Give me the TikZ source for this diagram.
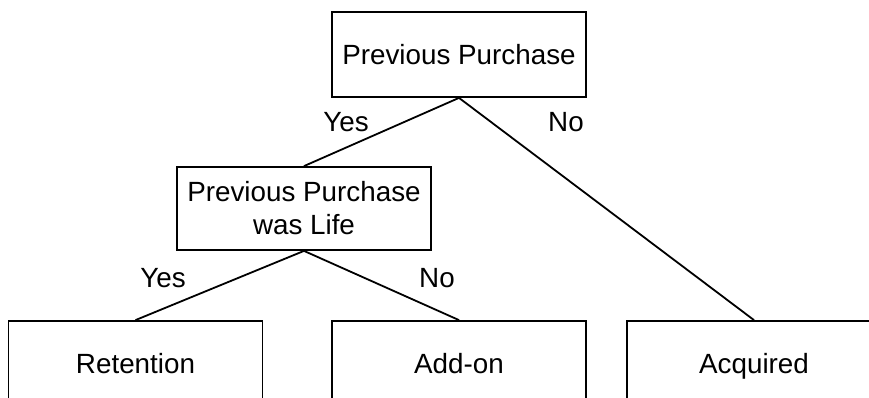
\documentclass[tikz,border=0pt]{standalone}
\usepackage{fontspec}
\setmainfont{Liberation Sans}
\begin{document}
\begin{tikzpicture}[x=1pt,y=-1pt,
  box/.style={draw=black,line width=1.8pt,rectangle,inner sep=0pt,
    minimum width=254pt,align=center,font=\fontsize{27.8}{33}\selectfont},
  onebox/.style={box,text height=20pt,text depth=0pt},
  lbl/.style={anchor=base,inner sep=0pt,font=\fontsize{27.8}{33}\selectfont},
  conn/.style={draw=black,line width=1.8pt}]
\useasboundingbox (0,0) rectangle (869,398);
\clip (0,0) rectangle (869,398);
\node[onebox,minimum height=85pt] (top) at (459,54.5) {Previous Purchase};
\node[box,minimum height=83pt] (mid) at (304,208.5) {Previous Purchase\\was Life};
\node[onebox,minimum height=84pt] (ret) at (135.5,363) {Retention};
\node[onebox,minimum height=84pt] (add) at (459,363) {Add-on};
\node[onebox,minimum height=84pt] (acq) at (754,363) {Acquired};
\node[lbl] (yes1) at (346,132) {Yes};
\node[lbl] (no1) at (566,132) {No};
\node[lbl] (yes2) at (163,287) {Yes};
\node[lbl] (no2) at (437,287) {No};
\draw[conn] (top.south) -- (mid.north);
\draw[conn] (top.south) -- (acq.north);
\draw[conn] (mid.south) -- (ret.north);
\draw[conn] (mid.south) -- (add.north);
\end{tikzpicture}
\end{document}
